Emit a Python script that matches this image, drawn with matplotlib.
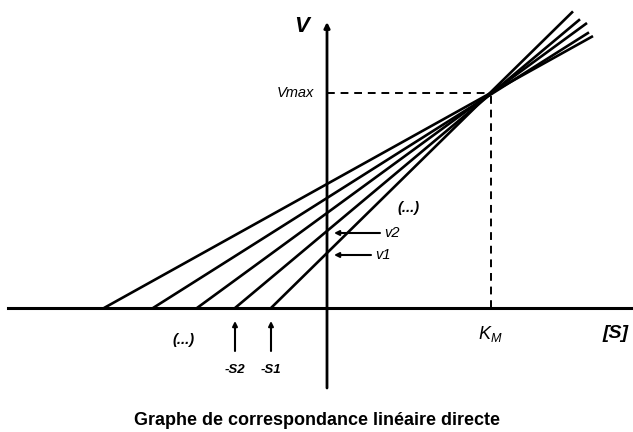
import matplotlib
matplotlib.use("Agg")
import matplotlib.pyplot as plt

# direct linear plot: one line per measurement, through (-s, 0) and (0, v)
substrate = [56, 92, 130, 174, 223]      # s1 ... s5
velocity = [55, 77, 95, 110, 124]        # v1 ... v5
line_end = [246, 253, 260, 262, 266]     # where each line stops on the right
km = 163.5
vmax = 215

plt.rcParams['font.family'] = ['Liberation Sans', 'DejaVu Sans']
plt.rcParams['mathtext.fontset'] = 'custom'
plt.rcParams['mathtext.it'] = 'Liberation Sans:italic'
plt.rcParams['mathtext.rm'] = 'Liberation Sans'

fig = plt.figure(figsize=(6.33, 4.32), dpi=100)
ax = fig.add_axes([0, 0, 1, 1])
ax.set_xlim(-327, 306)
ax.set_ylim(-124, 308)
ax.axis('off')

# axes
ax.plot([-319, 306], [0, 0], color='black', lw=2.2)
ax.annotate('', xy=(0, 286), xytext=(0, -80),
            arrowprops=dict(arrowstyle='-|>', color='black', lw=2,
                            mutation_scale=8, shrinkA=0, shrinkB=0))

for s, v, xe in zip(substrate, velocity, line_end):
    ax.plot([-s, xe], [0, v + v / s * xe], color='black', lw=1.9,
            solid_capstyle='butt')

# Vmax / KM guides
ax.plot([0, km], [vmax, vmax], color='black', lw=1.4, ls=(0, (4, 3)))
ax.plot([km, km], [0, vmax], color='black', lw=1.4, ls=(0, (4, 3)))

ax.text(-25, 281, 'V', fontsize=16, fontweight='bold', style='italic',
        ha='center', va='center')
ax.text(-13, vmax, 'Vmax', fontsize=10.5, style='italic', ha='right', va='center')
ax.text(km, -26, r'$K_M$', fontsize=13, ha='center', va='center')
ax.text(289, -25, '[S]', fontsize=14, fontweight='bold', style='italic',
        ha='center', va='center')

# arrows pointing to -s1, -s2 on the x axis
for s, lab in zip(substrate[:2], ['-S1', '-S2']):
    ax.annotate('', xy=(-s, -13), xytext=(-s, -43),
                arrowprops=dict(arrowstyle='-|>', color='black', lw=1.5,
                                mutation_scale=7, shrinkA=0, shrinkB=0))
    ax.text(-s, -62, lab, fontsize=9.5, fontweight='bold', style='italic',
            ha='center', va='center')
ax.text(-143, -32, '(...)', fontsize=10.5, fontweight='bold', style='italic',
        ha='center', va='center')

# arrows pointing to v1, v2 on the y axis
for v, x0, lab in zip(velocity[:2], [44, 53], ['v1', 'v2']):
    ax.annotate('', xy=(7, v - 2), xytext=(x0, v - 2),
                arrowprops=dict(arrowstyle='-|>', color='black', lw=1.5,
                                mutation_scale=7, shrinkA=0, shrinkB=0))
    ax.text(x0 + 4, v - 2, lab, fontsize=10.5, style='italic', ha='left', va='center')
ax.text(82, 100, '(...)', fontsize=10.5, fontweight='bold', style='italic',
        ha='center', va='center')

fig.text(0.5, 0.027, 'Graphe de correspondance linéaire directe', fontsize=13,
         fontweight='bold', ha='center', va='center')

fig.savefig('out.png', dpi=100)
